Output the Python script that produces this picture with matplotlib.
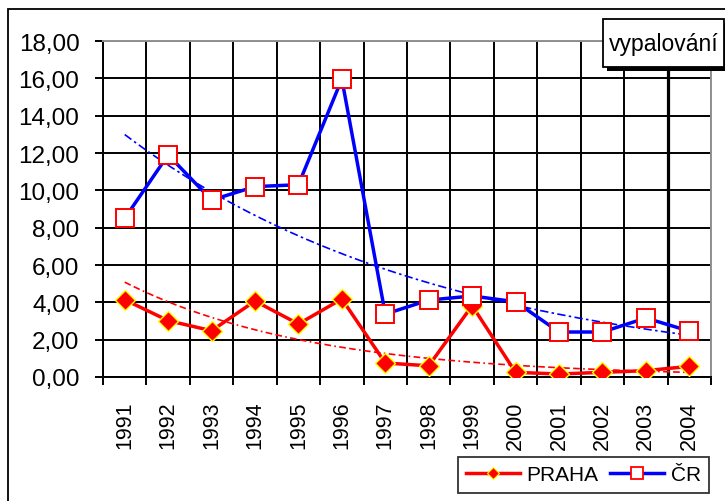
import numpy as np
import matplotlib
matplotlib.use('Agg')
import matplotlib.pyplot as plt
from matplotlib.patches import Rectangle
from matplotlib.lines import Line2D

# ---- data ----
years = ['1991', '1992', '1993', '1994', '1995', '1996', '1997',
         '1998', '1999', '2000', '2001', '2002', '2003', '2004']
praha = [4.14, 3.02, 2.48, 4.07, 2.84, 4.18, 0.75, 0.60, 3.82, 0.25, 0.16, 0.25, 0.34, 0.57]
cr = [8.50, 11.90, 9.48, 10.20, 10.30, 15.96, 3.37, 4.12, 4.34, 4.03, 2.41, 2.41, 3.16, 2.46]
y_ticks = [0, 2, 4, 6, 8, 10, 12, 14, 16, 18]
series_names = ['PRAHA', 'ČR']
title_text = 'vypalování'

plt.rcParams['font.family'] = ['Liberation Sans', 'DejaVu Sans']

W, H = 725, 502
fig = plt.figure(figsize=(W / 100, H / 100), dpi=100)
fig.patch.set_facecolor('white')

# outer chart border
fig.add_artist(Rectangle((8 / W, -0.05), 1.2, 1 - 10 / H + 0.05, transform=fig.transFigure,
                         fill=False, edgecolor='black', linewidth=1.3))

ax = fig.add_axes([103 / W, 1 - 378 / H, (711 - 103) / W, (378 - 42) / H])
n = len(years)
x = np.arange(1, n + 1)
ax.set_xlim(0.5, n + 0.5)
ax.set_ylim(0, 18)

# series lines
ax.plot(x, praha, color='#ff0000', linewidth=2.5, zorder=3,
        solid_joinstyle='round', solid_capstyle='round')
ax.plot(x, cr, color='#0000ff', linewidth=2.5, zorder=3,
        solid_joinstyle='round', solid_capstyle='round')

# exponential trendlines fitted to the data
xt = np.linspace(1, n, 200)
for vals, col, dash in [(praha, '#ff0000', (4, 2, 4, 2, 1, 2)), (cr, '#0000ff', (5, 2, 1.5, 2))]:
    b, lna = np.polyfit(x, np.log(vals), 1)
    ax.plot(xt, np.exp(lna + b * xt), color=col, linewidth=1.2, dashes=dash, zorder=4)

# markers
ax.plot(x, praha, linestyle='none', marker='D', markersize=10.5, markerfacecolor='#ff0000',
        markeredgecolor='#ffff00', markeredgewidth=1.0, zorder=5)
ax.plot(x, cr, linestyle='none', marker='s', markersize=13, markerfacecolor='white',
        markeredgecolor='#ff0000', markeredgewidth=1.4, zorder=5)

# axes / grid
ax.set_yticks(y_ticks)
ax.set_yticklabels([f'{v:.2f}'.replace('.', ',') for v in y_ticks], fontsize=17.5)
ax.set_xticks(x)
ax.set_xticklabels(years, rotation=90, fontsize=15.5)
ax.set_xticks(np.arange(0.5, n + 1, 1.0), minor=True)
ax.tick_params(axis='x', which='major', length=0, pad=17)
ax.tick_params(axis='x', which='minor', length=6, width=1.4, direction='out')
ax.tick_params(axis='y', which='major', length=6, width=1.4, direction='out', pad=11)
ax.set_axisbelow(True)
ax.grid(True, axis='y', which='major', color='black', linewidth=1.4)
ax.grid(True, axis='x', which='minor', color='black', linewidth=1.4)
ax.axvline(n - 0.5, color='black', linewidth=2.3, zorder=0.6)
for s in ['left', 'bottom']:
    ax.spines[s].set_color('black')
    ax.spines[s].set_linewidth(1.4)
for s in ['top', 'right']:
    ax.spines[s].set_color('#909090')
    ax.spines[s].set_linewidth(1.4)

# legend
handles = [
    Line2D([], [], color='#ff0000', linewidth=2.5, marker='D', markersize=6.5,
           markerfacecolor='#ff0000', markeredgecolor='#ffff00', markeredgewidth=0.8),
    Line2D([], [], color='#0000ff', linewidth=2.5, marker='s', markersize=8.5,
           markerfacecolor='white', markeredgecolor='#ff0000', markeredgewidth=1.3),
]
leg = fig.legend(handles, series_names, loc='center',
                 bbox_to_anchor=((460 + 707) / 2 / W, 1 - 476 / H), ncol=2,
                 fontsize=15, handlelength=2.6, handletextpad=0.3, columnspacing=0.55,
                 borderpad=0.4, borderaxespad=0, fancybox=False, shadow=False,
                 frameon=True)
leg.get_frame().set_edgecolor('black')
leg.get_frame().set_linewidth(1.3)

# title box with shadow
fig.add_artist(Rectangle((607 / W, 1 - 72 / H), 121 / W, 48 / H, transform=fig.transFigure,
                         facecolor='black', edgecolor='black', linewidth=0))
fig.add_artist(Rectangle((603 / W, 1 - 68 / H), 121 / W, 48 / H, transform=fig.transFigure,
                         facecolor='white', edgecolor='black', linewidth=1.3))
fig.text((603 + 724) / 2 / W, 1 - 44 / H, title_text, ha='center', va='center', fontsize=16.5)

fig.savefig('out.png', dpi=100)
